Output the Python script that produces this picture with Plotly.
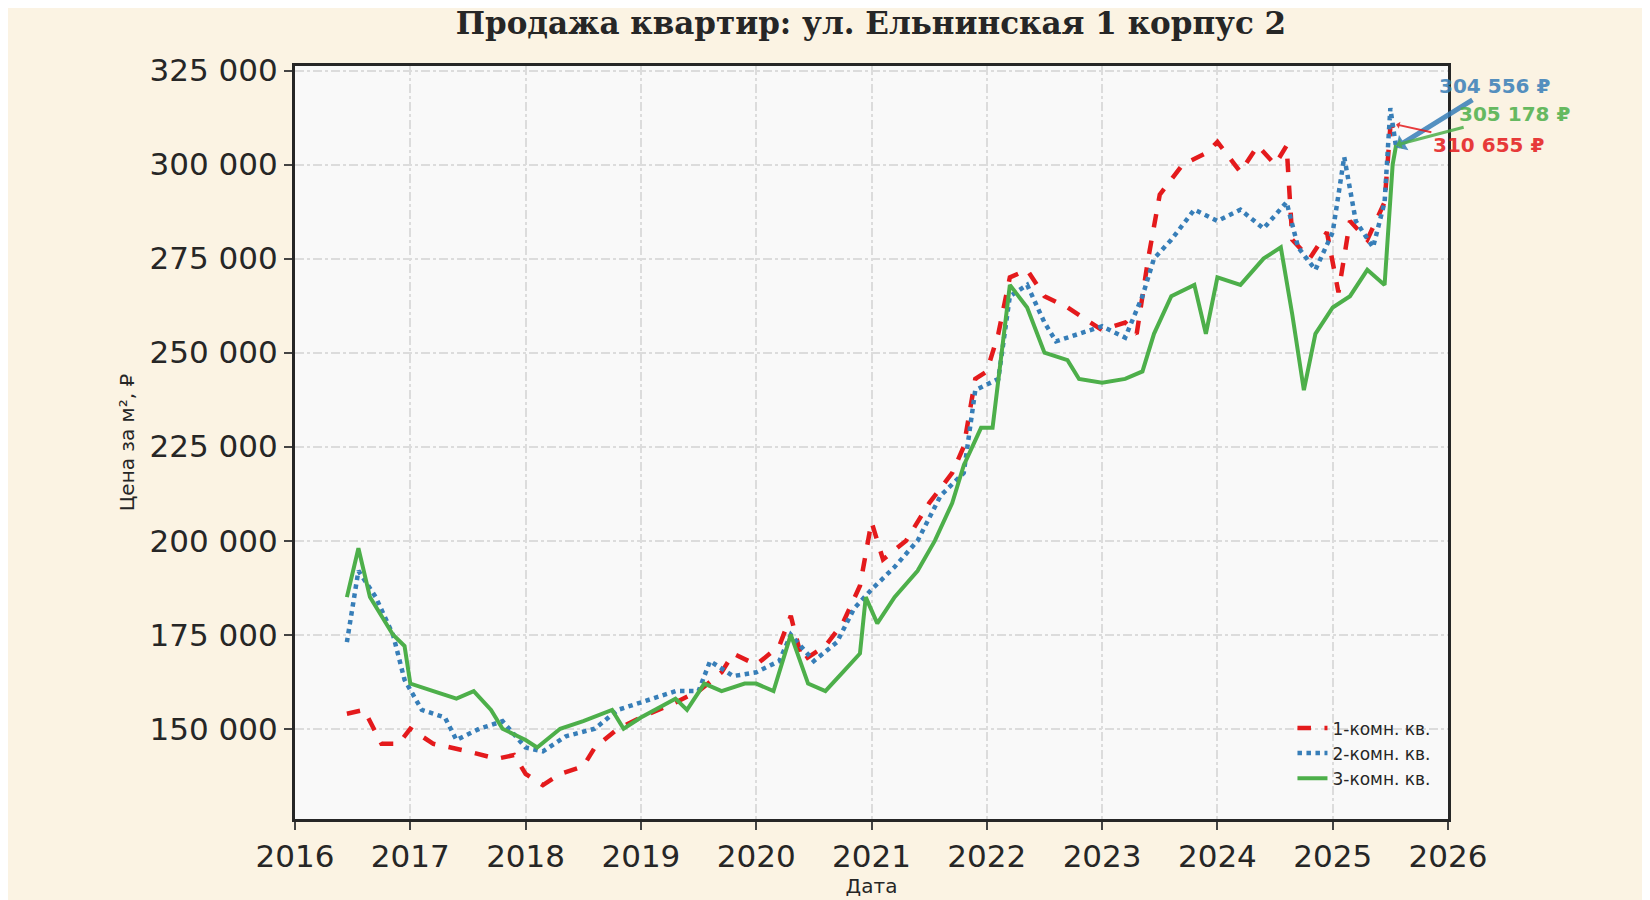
import plotly.graph_objects as go

# 1-комн.
x1 = [2016.45, 2016.6, 2016.75, 2016.9, 2017.0, 2017.2, 2017.5, 2017.75, 2017.9, 2018.0, 2018.15, 2018.3,
      2018.5, 2018.6, 2018.8, 2019.0, 2019.3, 2019.5, 2019.7, 2019.8, 2020.0, 2020.2, 2020.3, 2020.4,
      2020.6, 2020.75, 2020.9, 2021.0, 2021.1, 2021.3, 2021.5, 2021.7, 2021.8, 2021.9, 2022.0, 2022.1,
      2022.2, 2022.35, 2022.5, 2022.7, 2022.9, 2023.0, 2023.2, 2023.3, 2023.4, 2023.5, 2023.7, 2023.9,
      2024.0, 2024.2, 2024.35, 2024.5, 2024.6, 2024.65, 2024.8, 2024.95, 2025.05, 2025.15, 2025.3,
      2025.45, 2025.5, 2025.55]
y1 = [154000, 155000, 146000, 146000, 150000, 146000, 144000, 142000, 143000, 138000, 135000, 138000,
      140000, 145000, 150000, 153000, 157000, 160000, 165000, 170000, 167000, 172000, 180000, 168000,
      172000, 178000, 188000, 205000, 195000, 200000, 210000, 218000, 225000, 243000, 245000, 255000,
      270000, 272000, 265000, 262000, 258000, 256000, 258000, 255000, 275000, 292000, 300000, 303000,
      306000, 298000, 305000, 300000, 305000, 280000, 275000, 282000, 266000, 285000, 280000,
      290000, 310000, 310655]

# 2-комн.
x2 = [2016.45, 2016.55, 2016.7, 2016.85, 2016.95, 2017.1, 2017.3, 2017.4, 2017.6, 2017.8, 2018.0, 2018.15,
      2018.35, 2018.6, 2018.8, 2019.0, 2019.3, 2019.5, 2019.6, 2019.8, 2020.0, 2020.2, 2020.3, 2020.5,
      2020.7, 2020.85, 2021.0, 2021.2, 2021.4, 2021.6, 2021.8, 2021.9, 2022.1, 2022.2, 2022.35, 2022.5,
      2022.6, 2022.8, 2023.0, 2023.2, 2023.35, 2023.45, 2023.6, 2023.8, 2024.0, 2024.2, 2024.4, 2024.6,
      2024.7, 2024.85, 2025.0, 2025.1, 2025.2, 2025.35, 2025.45, 2025.5, 2025.55]
y2 = [173000, 192000, 185000, 175000, 163000, 155000, 153000, 147000, 150000, 152000, 145000, 144000,
      148000, 150000, 155000, 157000, 160000, 160000, 168000, 164000, 165000, 168000, 175000, 168000,
      173000, 182000, 187000, 193000, 200000, 212000, 218000, 240000, 243000, 265000, 268000, 258000,
      253000, 255000, 257000, 254000, 265000, 275000, 280000, 288000, 285000, 288000, 283000, 290000,
      278000, 272000, 282000, 302000, 285000, 278000, 290000, 315000, 304556]

# 3-комн.
x3 = [2016.45, 2016.55, 2016.65, 2016.75, 2016.85, 2016.95, 2017.0, 2017.2, 2017.4, 2017.55, 2017.7, 2017.8,
      2018.0, 2018.1, 2018.3, 2018.5, 2018.75, 2018.85, 2019.0, 2019.3, 2019.4, 2019.55, 2019.7, 2019.9,
      2020.0, 2020.15, 2020.3, 2020.45, 2020.6, 2020.75, 2020.9, 2020.95, 2021.05, 2021.2, 2021.4, 2021.55,
      2021.7, 2021.8, 2021.95, 2022.05, 2022.2, 2022.35, 2022.5, 2022.7, 2022.8, 2023.0, 2023.2, 2023.35,
      2023.45, 2023.6, 2023.8, 2023.9, 2024.0, 2024.2, 2024.4, 2024.55, 2024.65, 2024.75, 2024.85, 2025.0,
      2025.15, 2025.3, 2025.45, 2025.52, 2025.55]
y3 = [185000, 198000, 185000, 180000, 175000, 172000, 162000, 160000, 158000, 160000, 155000, 150000,
      147000, 145000, 150000, 152000, 155000, 150000, 153000, 158000, 155000, 162000, 160000, 162000,
      162000, 160000, 175000, 162000, 160000, 165000, 170000, 185000, 178000, 185000, 192000, 200000,
      210000, 220000, 230000, 230000, 268000, 262000, 250000, 248000, 243000, 242000, 243000, 245000,
      255000, 265000, 268000, 255000, 270000, 268000, 275000, 278000, 260000, 240000, 255000, 262000,
      265000, 272000, 268000, 300000, 305178]

RED, BLUE, GREEN = "#e41a1c", "#377eb8", "#4daf4a"

fig = go.Figure()
fig.add_trace(go.Scatter(x=x1, y=y1, mode="lines", name="1-комн. кв.",
                         line=dict(color=RED, width=4.5, dash="dash")))
fig.add_trace(go.Scatter(x=x2, y=y2, mode="lines", name="2-комн. кв.",
                         line=dict(color=BLUE, width=4.5, dash="dot")))
fig.add_trace(go.Scatter(x=x3, y=y3, mode="lines", name="3-комн. кв.",
                         line=dict(color=GREEN, width=4)))

labels = [(x2[-1], y2[-1], 2026.4, 320800, BLUE, 5),
          (x3[-1], y3[-1], 2026.58, 313500, GREEN, 3),
          (x1[-1], y1[-1], 2026.35, 305200, RED, 2)]
for xe, ye, tx, ty, c, w in labels:
    fig.add_annotation(x=xe, y=ye, ax=tx, ay=ty, axref="x", ayref="y",
                       text="<b>" + f"{ye:,.0f} ₽".replace(",", " ") + "</b>", showarrow=True,
                       arrowhead=1, arrowsize=0.6, arrowwidth=w, arrowcolor=c, opacity=0.85,
                       font=dict(color=c, size=20, family="DejaVu Sans"),
                       xanchor="center", yanchor="middle")

fig.update_layout(
    width=1650, height=900,
    paper_bgcolor="#fbf3e3", plot_bgcolor="#f9f9f9",
    margin=dict(l=287, r=210, t=58, b=89),
    separators=". ",
    font=dict(family="DejaVu Sans", color="#262626"),
    title=dict(text="<b>Продажа квартир: ул. Ельнинская 1 корпус 2</b>", x=0.523, y=0.995,
               font=dict(family="DejaVu Serif", size=31)),
    showlegend=True,
    legend=dict(x=0.99, y=0.03, xanchor="right", yanchor="bottom", bgcolor="rgba(0,0,0,0)",
                font=dict(size=17)),
)
axis = dict(showline=True, linecolor="#262626", linewidth=3, mirror=True, ticks="outside",
            ticklen=8, tickwidth=2, tickfont=dict(size=31), gridcolor="#dcdcdc",
            griddash="dashdot", gridwidth=2, zeroline=False)
fig.update_xaxes(axis, range=[2016, 2026], dtick=1, tickformat="d",
                 title=dict(text="Дата", font=dict(size=20), standoff=6))
fig.update_yaxes(axis, range=[126000, 326200], dtick=25000, tickformat=",d",
                 title=dict(text="Цена за м², ₽", font=dict(size=20), standoff=10))

fig.write_html("out.html")
